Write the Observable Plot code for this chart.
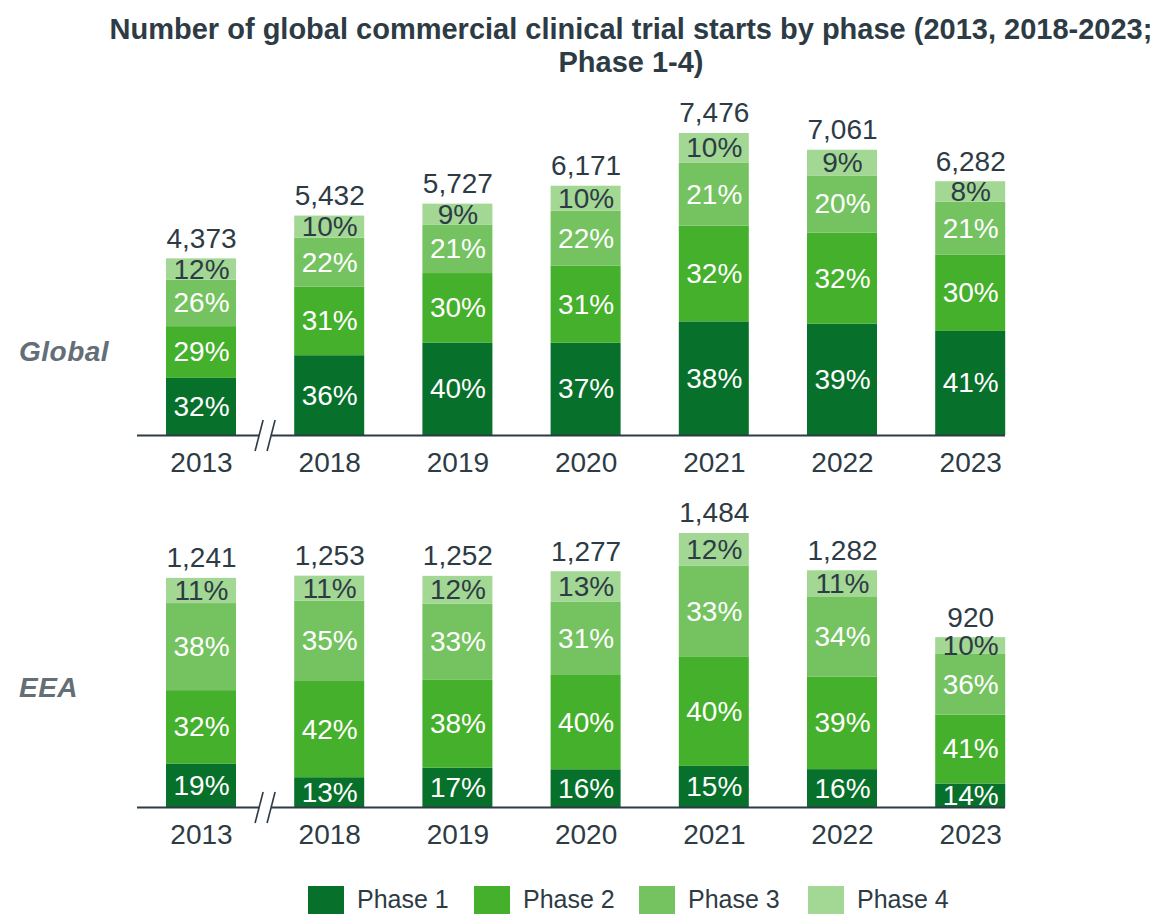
<!DOCTYPE html>
<html>
<head>
<meta charset="utf-8">
<script src="https://cdn.jsdelivr.net/npm/d3@7"></script>
<script src="https://cdn.jsdelivr.net/npm/@observablehq/plot@0.6"></script>
<style>
  html, body { margin: 0; padding: 0; background: #fff; }
  #wrap { position: relative; width: 1163px; height: 914px; overflow: hidden; font-family: "Liberation Sans", Arial, sans-serif; color: #2d3b45; }
  #title { position: absolute; left: 62px; width: 1138px; top: 13px; text-align: center; font-weight: bold; font-size: 29px; line-height: 33px; white-space: nowrap; }
  .rowlab { position: absolute; left: 19px; font-size: 28px; font-weight: bold; font-style: italic; color: #646e77; letter-spacing: 0.5px; }
  .panel { position: absolute; left: 0; }
  #legend { position: absolute; top: 886px; left: 0; width: 1163px; height: 28px; }
  .lg { position: absolute; top: 0; display: flex; align-items: flex-start; }
  .sw { width: 36px; height: 28px; }
  .lt { font-size: 25px; margin-left: 13px; line-height: 24px; margin-top: 1px; }
</style>
</head>
<body>
<div id="wrap">
  <div id="global" class="panel" style="top:85px"></div>
  <div id="eea" class="panel" style="top:490px"></div>
  <div id="title">Number of global commercial clinical trial starts by phase (2013, 2018-2023;<br>Phase 1-4)</div>
  <div class="rowlab" style="top:336px">Global</div>
  <div class="rowlab" style="top:672px">EEA</div>
  <div id="legend"></div>
</div>
<script>
const years = ["2013", "2018", "2019", "2020", "2021", "2022", "2023"];
const phases = ["Phase 1", "Phase 2", "Phase 3", "Phase 4"];
const phaseColors = ["#07702a", "#45b02b", "#74c360", "#a3d794"];

const globalTotals = [4373, 5432, 5727, 6171, 7476, 7061, 6282];
const globalPhase1 = [32, 36, 40, 37, 38, 39, 41];
const globalPhase2 = [29, 31, 30, 31, 32, 32, 30];
const globalPhase3 = [26, 22, 21, 22, 21, 20, 21];
const globalPhase4 = [12, 10, 9, 10, 10, 9, 8];

const eeaTotals = [1241, 1253, 1252, 1277, 1484, 1282, 920];
const eeaPhase1 = [19, 13, 17, 16, 15, 16, 14];
const eeaPhase2 = [32, 42, 38, 40, 40, 39, 41];
const eeaPhase3 = [38, 35, 33, 31, 33, 34, 36];
const eeaPhase4 = [11, 11, 12, 13, 12, 11, 10];

const dark = "#2d3b45";
const fontFamily = "'Liberation Sans', Arial, sans-serif";

function rowsFor(totals, series) {
  const rows = [];
  years.forEach((year, i) => {
    const sum = d3.sum(series, s => s[i]);
    series.forEach((s, k) => {
      rows.push({year, phase: phases[k], pct: s[i], value: totals[i] * s[i] / sum});
    });
  });
  return rows;
}

function panel(totals, series, yRange, height) {
  const rows = rowsFor(totals, series);
  const tot = years.map((year, i) => ({year, total: totals[i]}));
  const chart = Plot.plot({
    width: 1163,
    height,
    marginLeft: 137,
    marginRight: 158,
    marginTop: 0,
    marginBottom: 0,
    style: {fontFamily, fontSize: "28px", color: dark, background: "transparent", overflow: "visible"},
    x: {type: "band", domain: years, range: [107.8, 1063.4], paddingInner: 0.454, paddingOuter: 0.454, round: false, axis: null},
    y: {domain: [0, d3.max(totals)], range: yRange, axis: null},
    color: {domain: phases, range: phaseColors},
    marks: [
      Plot.barY(rows, Plot.stackY({x: "year", y: "value", fill: "phase", order: null})),
      Plot.text(rows, Plot.stackY({
        x: "year", y: "value", order: null,
        text: d => d.pct + "%",
        fill: d => d.phase === "Phase 4" ? dark : "white",
        fontSize: 28
      })),
      Plot.text(tot, {x: "year", y: "total", text: d => d3.format(",")(d.total), dy: -20, fontSize: 28, fill: dark}),
      Plot.ruleY([0], {stroke: dark, strokeWidth: 2}),
      Plot.text(years, {x: d => d, y: () => 0, text: d => d, dy: 28, fontSize: 28, fill: dark})
    ]
  });
  // axis break mark between 2013 and 2018
  const xs = chart.scale("x");
  const bw = xs.bandwidth;
  const cx = (xs.apply("2013") + bw + xs.apply("2018")) / 2;
  const y0 = chart.scale("y").apply(0);
  const g = d3.select(chart).append("g");
  g.append("rect").attr("x", cx - 6).attr("y", y0 - 2).attr("width", 12).attr("height", 4).attr("fill", "white");
  [[-10, -2], [2, 10]].forEach(([a, b]) => {
    g.append("line").attr("x1", cx + a).attr("y1", y0 + 16).attr("x2", cx + b).attr("y2", y0 - 15)
      .attr("stroke", dark).attr("stroke-width", 1.6);
  });
  return chart;
}

document.getElementById("global").appendChild(
  panel(globalTotals, [globalPhase1, globalPhase2, globalPhase3, globalPhase4], [350, 48], 400)
);
document.getElementById("eea").appendChild(
  panel(eeaTotals, [eeaPhase1, eeaPhase2, eeaPhase3, eeaPhase4], [317, 43], 370)
);

const legendX = [308, 474, 639, 808];
const legend = document.getElementById("legend");
phases.forEach((p, i) => {
  const item = document.createElement("div");
  item.className = "lg";
  item.style.left = legendX[i] + "px";
  item.innerHTML = `<div class="sw" style="background:${phaseColors[i]}"></div><div class="lt">${p}</div>`;
  legend.appendChild(item);
});
</script>
</body>
</html>
